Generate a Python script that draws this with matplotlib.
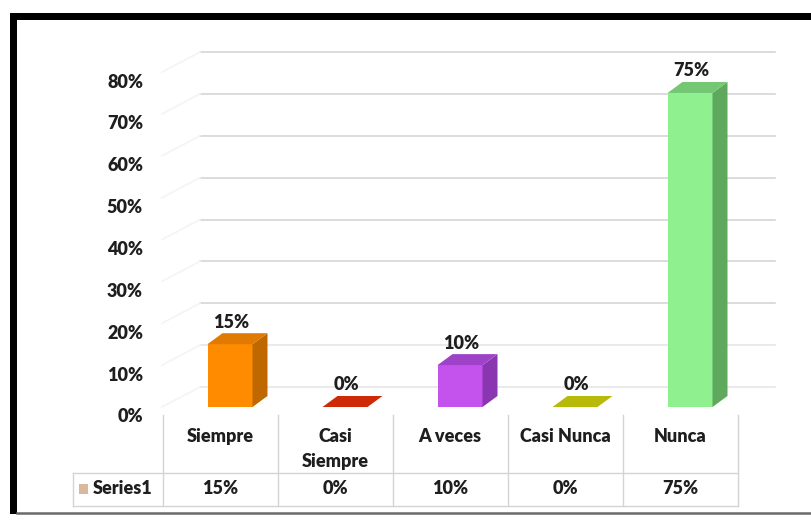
import matplotlib
matplotlib.use("Agg")
import matplotlib.pyplot as plt
from matplotlib.patches import Polygon, Rectangle
from matplotlib.lines import Line2D
from matplotlib import transforms

# ---------------- data ----------------
categories = ["Siempre", "Casi\nSiempre", "A veces", "Casi Nunca", "Nunca"]
values = [15, 0, 10, 0, 75]
value_labels = ["15%", "0%", "10%", "0%", "75%"]
y_ticks = [0, 10, 20, 30, 40, 50, 60, 70, 80]
series_name = "Series1"

front_colors = ["#ff8c00", "#d42a0c", "#c453ee", "#c3c40c", "#8ef08e"]
side_colors = ["#c06800", "#a01c05", "#8a36b0", "#9a9b05", "#5fa95f"]
top_colors = ["#e07a00", "#cf2a08", "#9e42c8", "#b8ba0a", "#74c874"]

# ---------------- geometry (pixels) ----------------
W, H = 811, 523
X0, XSTEP = 230.0, 115.0      # pixel x of first category centre, spacing
Y0, YSCALE = 407.0, 4.187     # pixel y of 0 %, pixels per 1 %
PXX = 1.0 / XSTEP
PXY = 1.0 / YSCALE

fig = plt.figure(figsize=(W / 100, H / 100), dpi=100)
fig.patch.set_facecolor("white")
ax = fig.add_axes([0, 0, 1, 1])
ax.set_xlim((0 - X0) / XSTEP, (W - X0) / XSTEP)
ax.set_ylim(-(H - Y0) / YSCALE, Y0 / YSCALE)
ax.axis("off")

pix = transforms.Affine2D().scale(1, -1).translate(0, H) + transforms.IdentityTransform()

FONT = "Lato"
FS = 13
FW = "heavy"
TXT = "#1e1e1e"

# ---------------- back wall gridlines ----------------
back_off = 20 * PXY
gx0, gx1 = (200 - X0) / XSTEP, (775 - X0) / XSTEP
for t in y_ticks:
    yb = t + back_off
    col = "#d6d6d6" if t >= 20 else "#e6e6e6"
    ax.plot([gx0, gx1], [yb, yb], color=col, lw=1.2, zorder=1)
    # faint side-wall diagonal
    ax.plot([gx0, gx0 - 38 * PXX], [yb, yb - 20 * PXY], color="#f4f4f4", lw=1.2, zorder=1)

# ---------------- 3D bars ----------------
bw = 45 * PXX
dx, dy = 15 * PXX, 11 * PXY
for i, v in enumerate(values):
    l, r = i - bw / 2, i + bw / 2
    if v > 0:
        ax.add_patch(Rectangle((l, 0), bw, v, facecolor=front_colors[i], edgecolor="none", zorder=3))
        ax.add_patch(Polygon([(r, 0), (r + dx, dy), (r + dx, v + dy), (r, v)],
                             closed=True, facecolor=side_colors[i], edgecolor="none", zorder=3))
    ax.add_patch(Polygon([(l, v), (r, v), (r + dx, v + dy), (l + dx, v + dy)],
                         closed=True, facecolor=top_colors[i], edgecolor="none", zorder=3))
    ax.text(i + 1 * PXX, v + dy + 11 * PXY, value_labels[i], ha="center", va="center",
            fontsize=FS, fontweight=FW, color=TXT, family=FONT, zorder=4)

# ---------------- value axis labels ----------------
for t in y_ticks:
    ax.text((143 - X0) / XSTEP, t - 10 * PXY, f"{t}%", ha="right", va="center",
            fontsize=FS, fontweight=FW, color=TXT, family=FONT)

# ---------------- data table ----------------
edges = [(163 - X0) / XSTEP] + [i + 0.5 - 10 * PXX for i in range(len(categories))]
y_top, y_mid, y_bot = -(415 - Y0) * PXY, -(473 - Y0) * PXY, -(506 - Y0) * PXY
x_left = (73 - X0) / XSTEP
lc = "#d4d4d4"
for e in edges:
    ax.plot([e, e], [y_top, y_bot], color=lc, lw=1.0, zorder=2)
ax.plot([x_left, x_left], [y_mid, y_bot], color=lc, lw=1.0, zorder=2)
ax.plot([x_left, edges[-1]], [y_mid, y_mid], color=lc, lw=1.0, zorder=2)
ax.plot([x_left, edges[-1]], [y_bot, y_bot], color=lc, lw=1.0, zorder=2)

for i, (c, lab) in enumerate(zip(categories, value_labels)):
    cx = (edges[i] + edges[i + 1]) / 2
    ax.text(cx, -(428 - Y0) * PXY, c, ha="center", va="top", fontsize=FS,
            fontweight=FW, color=TXT, family=FONT, linespacing=1.55)
    ax.text(cx, -(489 - Y0) * PXY, lab, ha="center", va="center", fontsize=FS,
            fontweight=FW, color=TXT, family=FONT)

ax.add_patch(Rectangle((79, 484), 9, 10, transform=pix, facecolor="#d9b89c",
                       edgecolor="none", zorder=3))
ax.text(93, 489, series_name, transform=pix, ha="left", va="center", fontsize=FS,
        fontweight=FW, color=TXT, family=FONT)

# ---------------- frame ----------------
fig.add_artist(Rectangle((10, 13), W - 10, 7, transform=pix, facecolor="black", edgecolor="none"))
fig.add_artist(Rectangle((10, 13), 7, 501, transform=pix, facecolor="black", edgecolor="none"))
fig.add_artist(Line2D([17, W], [513, 513], transform=pix, color="#6a6a6a", lw=1.8))

fig.savefig("out.png", dpi=100)
